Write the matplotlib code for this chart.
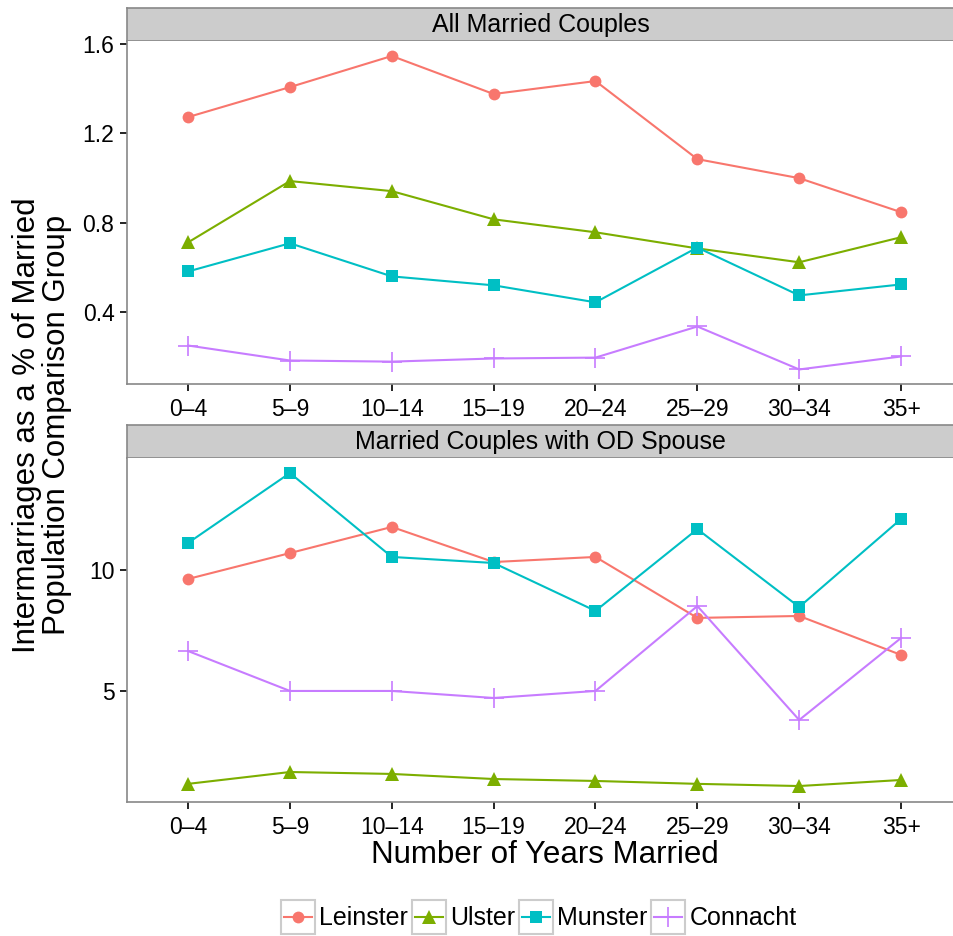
import matplotlib
matplotlib.use("Agg")
import matplotlib.pyplot as plt
from matplotlib.patches import Rectangle

plt.rcParams['font.family'] = ['Liberation Sans', 'DejaVu Sans']

# -------------------------------
# Data
# -------------------------------
years = ['0\u20134', '5\u20139', '10\u201314', '15\u201319', '20\u201324', '25\u201329', '30\u201334', '35+']
provinces = ['Leinster', 'Ulster', 'Munster', 'Connacht']

all_leinster = [1.273, 1.407, 1.546, 1.376, 1.434, 1.085, 1.000, 0.848]
all_ulster = [0.713, 0.987, 0.942, 0.816, 0.758, 0.686, 0.624, 0.736]
all_munster = [0.583, 0.709, 0.561, 0.521, 0.445, 0.690, 0.476, 0.525]
all_connacht = [0.252, 0.185, 0.180, 0.194, 0.198, 0.337, 0.145, 0.203]

od_leinster = [9.63, 10.70, 11.78, 10.33, 10.54, 8.02, 8.10, 6.49]
od_ulster = [1.16, 1.65, 1.57, 1.36, 1.28, 1.16, 1.07, 1.32]
od_munster = [11.12, 14.01, 10.54, 10.29, 8.31, 11.69, 8.47, 12.11]
od_connacht = [6.65, 5.00, 5.00, 4.71, 5.00, 8.51, 3.80, 7.19]

colors = ['#F8766D', '#7CAE00', '#00BFC4', '#C77CFF']
markers = ['o', '^', 's', '+']
msizes = [8.5, 10, 8.5, 14]

W, H = 954, 936
fig = plt.figure(figsize=(W / 100, H / 100), dpi=100)


def px_axes(x0, y0, x1, y1):
    return fig.add_axes([x0 / W, 1 - y1 / H, (x1 - x0) / W, (y1 - y0) / H])


def mew(m):
    return 1.2 if m == '+' else 0


def strip(y0, y1, title):
    s = px_axes(127, y0, 954, y1)
    s.set_facecolor('#CCCCCC')
    s.set_xticks([])
    s.set_yticks([])
    for sp in s.spines.values():
        sp.set_color('#888888')
        sp.set_linewidth(1.2)
    s.text(0.5, 0.47, title, ha='center', va='center', fontsize=18, transform=s.transAxes)


def panel(y0, y1, series, ylim, yticks, yticklabels):
    ax = px_axes(127, y0, 954, y1)
    x = list(range(len(years)))
    for vals, c, m, ms in zip(series, colors, markers, msizes):
        ax.plot(x, vals, color=c, linewidth=1.5, marker=m, markersize=ms,
                markeredgewidth=mew(m))
    ax.set_xlim(-0.6, 7.52)
    ax.set_ylim(*ylim)
    ax.set_xticks(x)
    ax.set_xticklabels(years)
    ax.set_yticks(yticks)
    ax.set_yticklabels(yticklabels)
    ax.tick_params(labelsize=16.5, length=5, width=1.2, color='black')
    ax.tick_params(axis='x', pad=5)
    ax.tick_params(axis='y', pad=4)
    for side in ['top', 'right']:
        ax.spines[side].set_visible(False)
    for side in ['left', 'bottom']:
        ax.spines[side].set_color('#888888')
        ax.spines[side].set_linewidth(1.2)
    return ax


strip(8, 41, 'All Married Couples')
panel(41, 384, [all_leinster, all_ulster, all_munster, all_connacht],
      (0.08, 1.613), [0.4, 0.8, 1.2, 1.6], ['0.4', '0.8', '1.2', '1.6'])

strip(425, 458, 'Married Couples with OD Spouse')
panel(458, 802, [od_leinster, od_ulster, od_munster, od_connacht],
      (0.41, 14.63), [5, 10], ['5', '10'])

fig.text(42 / W, 1 - 425 / H, 'Intermarriages as a % of Married\nPopulation Comparison Group',
         rotation=90, ha='center', va='center', fontsize=22.5, linespacing=1.0)
fig.text(545 / W, 1 - 855 / H, 'Number of Years Married', ha='center', va='center', fontsize=22.5)

# -------------------------------
# Legend: keys in grey boxes, drawn in pixel space
# -------------------------------
lg = fig.add_axes([0, 0, 1, 1], zorder=5)
lg.set_xlim(0, W)
lg.set_ylim(H, 0)
lg.axis('off')
renderer = fig.canvas.get_renderer()

box = 34
yc = 917
xpos = 281
for name, c, m, ms in zip(provinces, colors, markers, msizes):
    lg.add_patch(Rectangle((xpos, yc - box / 2), box, box, facecolor='white',
                           edgecolor='#CCCCCC', linewidth=1.5))
    lg.plot([xpos + 3, xpos + box - 3], [yc, yc], color=c, linewidth=1.5)
    lg.plot([xpos + box / 2], [yc], color=c, marker=m, markersize=ms, markeredgewidth=mew(m))
    t = lg.text(xpos + box + 4, yc + 1, name, ha='left', va='center', fontsize=18)
    tw = t.get_window_extent(renderer).width
    xpos += box + 4 + tw + 4

fig.savefig('out.png', dpi=100)
